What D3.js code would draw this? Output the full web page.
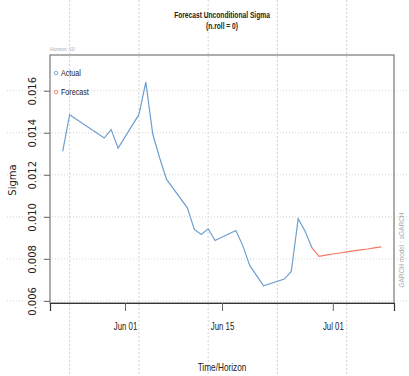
<!DOCTYPE html>
<html lang="en">
<head>
    <meta charset="UTF-8">
    <title>Forecast Unconditional Sigma</title>
    <style>
        body { margin: 0; padding: 0; background: #fff; }
        svg { display: block; }
        .narrow { font-family: "Liberation Sans", Arial, sans-serif; }
        .wide { font-family: "DejaVu Sans", sans-serif; }
    </style>
    <script src="https://d3js.org/d3.v7.min.js"></script>
</head>
<body>
    <div id="chart"></div>
    <script>
        // actual sigma (fitted), daily
        const actualDates = ["2013-05-23", "2013-05-24", "2013-05-29", "2013-05-30", "2013-05-31",
            "2013-06-03", "2013-06-04", "2013-06-05", "2013-06-06", "2013-06-07", "2013-06-10",
            "2013-06-11", "2013-06-12", "2013-06-13", "2013-06-14", "2013-06-17", "2013-06-18",
            "2013-06-19", "2013-06-20", "2013-06-21", "2013-06-24", "2013-06-25", "2013-06-26",
            "2013-06-27", "2013-06-28"];
        const actualSigma = [0.01311, 0.01486, 0.01375, 0.01415, 0.01327,
            0.01486, 0.01641, 0.01394, 0.01280, 0.01178, 0.01043,
            0.00940, 0.00916, 0.00943, 0.00887, 0.00935, 0.00863,
            0.00769, 0.00720, 0.00672, 0.00704, 0.00740, 0.00991,
            0.00931, 0.00852];

        // 10 step ahead forecast
        const forecastDates = ["2013-06-29", "2013-06-30", "2013-07-01", "2013-07-02", "2013-07-03",
            "2013-07-04", "2013-07-05", "2013-07-06", "2013-07-07", "2013-07-08"];
        const forecastSigma = [0.00812, 0.00818, 0.00823, 0.00828, 0.00833,
            0.00838, 0.00843, 0.00847, 0.00852, 0.00857];

        const yTicks = [0.006, 0.008, 0.010, 0.012, 0.014, 0.016];
        const xTickDates = ["2013-06-01", "2013-06-15", "2013-07-01"];
        const xTickLabels = ["Jun 01", "Jun 15", "Jul 01"];
        const gridDates = ["2013-05-24", "2013-06-03", "2013-06-13", "2013-06-23", "2013-07-03"];

        const W = 409, H = 376;
        const mLeft = 50, mRight = 394, mTop = 55, mBottom = 303;
        const parse = d3.timeParse("%Y-%m-%d");
        const blue = "#6f9fcf", red = "#f47a62";

        // squeeze text horizontally (the original uses a condensed face)
        function condense(sel, k) {
            sel.each(function () {
                const len = this.getComputedTextLength();
                d3.select(this).attr("textLength", len * k).attr("lengthAdjust", "spacingAndGlyphs");
            });
        }

        const svg = d3.select("#chart").append("svg")
            .attr("width", W).attr("height", H);

        const x = d3.scaleTime()
            .domain([new Date(2013, 4, 21, 4), new Date(2013, 6, 9, 20)])
            .range([mLeft, mRight]);
        const y = d3.scaleLinear()
            .domain([0.0059, 0.0177])
            .range([mBottom, mTop]);

        // grid (runs over the whole figure, like abline in base R)
        svg.selectAll(".hgrid").data(yTicks).enter().append("line")
            .attr("x1", 7).attr("x2", W)
            .attr("y1", d => y(d)).attr("y2", d => y(d))
            .attr("stroke", "#d4d4d4").attr("stroke-dasharray", "1,2");
        svg.selectAll(".vgrid").data(gridDates).enter().append("line")
            .attr("x1", d => x(parse(d))).attr("x2", d => x(parse(d)))
            .attr("y1", 0).attr("y2", H)
            .attr("stroke", "#d4d4d4").attr("stroke-dasharray", "2,2");

        // lines
        const actual = actualDates.map((d, i) => ({ date: parse(d), v: actualSigma[i] }));
        const fc = [actual[actual.length - 1]].concat(
            forecastDates.map((d, i) => ({ date: parse(d), v: forecastSigma[i] })));
        const line = d3.line().x(d => x(d.date)).y(d => y(d.v));

        svg.append("path").datum(actual).attr("d", line)
            .attr("fill", "none").attr("stroke", blue).attr("stroke-width", 1.2);
        svg.append("path").datum(fc).attr("d", line)
            .attr("fill", "none").attr("stroke", red).attr("stroke-width", 1.2);

        // box
        svg.append("rect")
            .attr("x", mLeft).attr("y", mTop)
            .attr("width", mRight - mLeft).attr("height", mBottom - mTop)
            .attr("fill", "none").attr("stroke", "#777").attr("stroke-width", 1.2);

        // axes
        const xAxis = d3.axisBottom(x)
            .tickValues(xTickDates.map(parse))
            .tickFormat((d, i) => xTickLabels[i])
            .tickSize(8).tickPadding(12);
        const gx = svg.append("g").attr("transform", `translate(0,${mBottom})`).call(xAxis);
        gx.select(".domain").attr("stroke", "#333").attr("stroke-width", 1.2);
        gx.selectAll(".tick line").attr("stroke", "#666");
        gx.selectAll("text").attr("class", "narrow").attr("font-size", 10).attr("fill", "#222")
            .call(condense, 0.78);

        const yAxis = d3.axisLeft(y).tickValues(yTicks)
            .tickFormat(d3.format(".3f")).tickSize(6).tickPadding(4);
        const gy = svg.append("g").attr("transform", `translate(${mLeft},0)`).call(yAxis);
        gy.select(".domain").remove();
        gy.selectAll(".tick line").attr("stroke", "#666");
        gy.selectAll("text").attr("class", "wide").attr("font-size", 10).attr("fill", "#222")
            .attr("text-anchor", "middle")
            .attr("x", null).attr("dy", null)
            .attr("transform", "translate(-14,0) rotate(-90)");

        // titles
        svg.append("text").attr("class", "narrow")
            .attr("x", 222).attr("y", 18).attr("text-anchor", "middle")
            .attr("font-size", 9.5).attr("font-weight", "bold").attr("fill", "#222")
            .text("Forecast Unconditional Sigma").call(condense, 0.7);
        svg.append("text").attr("class", "narrow")
            .attr("x", 222).attr("y", 29).attr("text-anchor", "middle")
            .attr("font-size", 9.5).attr("font-weight", "bold").attr("fill", "#222")
            .text("(n.roll = 0)").call(condense, 0.7);
        svg.append("text").attr("class", "narrow")
            .attr("x", 222).attr("y", 371).attr("text-anchor", "middle")
            .attr("font-size", 11).attr("fill", "#222")
            .text("Time/Horizon").call(condense, 0.75);
        svg.append("text").attr("class", "wide")
            .attr("transform", "translate(16,180) rotate(-90)").attr("text-anchor", "middle")
            .attr("font-size", 10).attr("fill", "#222")
            .text("Sigma");
        svg.append("text").attr("class", "narrow")
            .attr("x", mLeft).attr("y", 51)
            .attr("font-size", 6).attr("fill", "#aaa")
            .text("Horizon: 10").call(condense, 0.8);
        svg.append("text").attr("class", "narrow")
            .attr("transform", "translate(404,250) rotate(-90)").attr("text-anchor", "middle")
            .attr("font-size", 6.5).attr("fill", "#aaa")
            .text("GARCH model : sGARCH");

        // legend
        const legend = [["Actual", blue], ["Forecast", red]];
        const lg = svg.selectAll(".lg").data(legend).enter().append("g")
            .attr("transform", (d, i) => `translate(56,${73 + i * 19})`);
        lg.append("circle").attr("r", 1.8).attr("fill", "none")
            .attr("stroke", d => d[1]).attr("stroke-width", 0.9);
        lg.append("text").attr("class", "narrow").attr("x", 5).attr("dy", "0.35em")
            .attr("font-size", 9.5).attr("fill", "#222").text(d => d[0])
            .call(condense, 0.75);
    </script>
</body>
</html>
